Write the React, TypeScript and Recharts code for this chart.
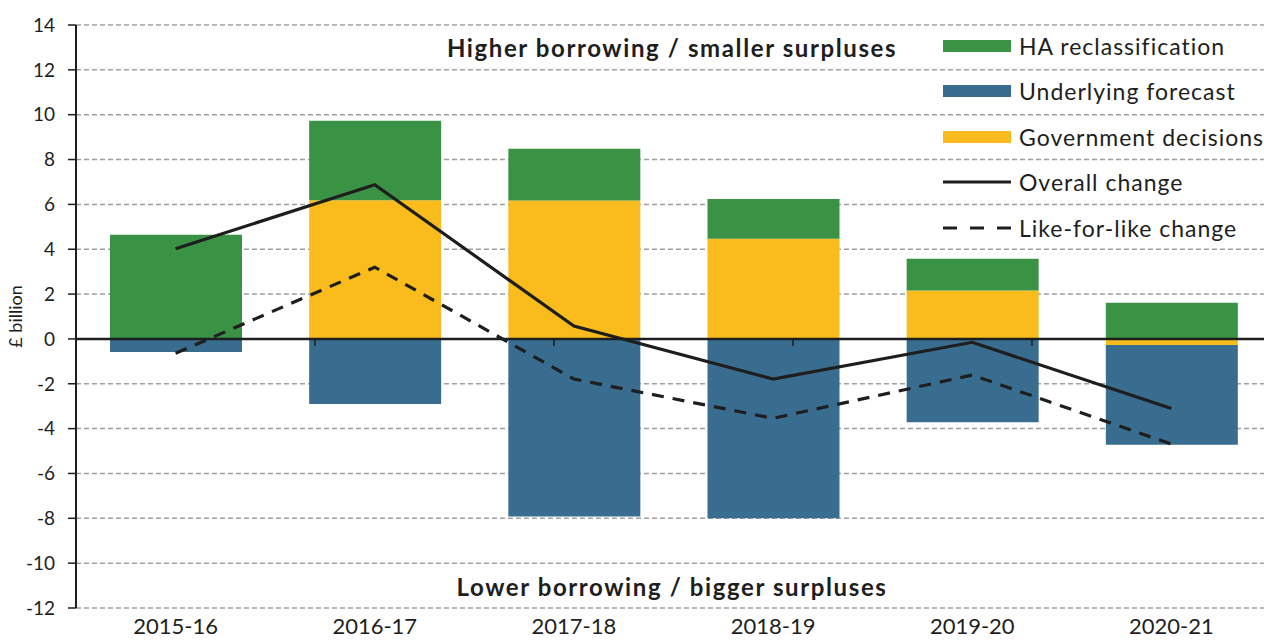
import {
  ComposedChart,
  Bar,
  Line,
  XAxis,
  YAxis,
  CartesianGrid,
  ReferenceLine,
} from "recharts";

const categories = ["2015-16", "2016-17", "2017-18", "2018-19", "2019-20", "2020-21"];
const govDecisions = [0, 6.18, 6.17, 4.47, 2.16, -0.27];
const underlyingForecast = [-0.58, -2.9, -7.92, -8.0, -3.72, -4.45];
const haReclassification = [4.65, 3.55, 2.31, 1.77, 1.41, 1.61];
const overallChange = [4.02, 6.88, 0.57, -1.79, -0.15, -3.1];
const likeForLikeChange = [-0.64, 3.2, -1.79, -3.54, -1.61, -4.69];
const yTicks = [-12, -10, -8, -6, -4, -2, 0, 2, 4, 6, 8, 10, 12, 14];
const bandEdges = [1, 2, 3, 4, 5];

const GREEN = "#3a9345";
const BLUE = "#396d8f";
const YELLOW = "#f9bc1c";
const INK = "#1e1e1e";
const FONT = "Lato, 'DejaVu Sans', sans-serif";

const data = categories.map((c, i) => ({
  year: c,
  gov: govDecisions[i],
  underlying: underlyingForecast[i],
  ha: haReclassification[i],
  overall: overallChange[i],
  like: likeForLikeChange[i],
}));

// legend order differs from stacking order
const legendItems = [
  { name: "HA reclassification", kind: "box", color: GREEN },
  { name: "Underlying forecast", kind: "box", color: BLUE },
  { name: "Government decisions", kind: "box", color: YELLOW },
  { name: "Overall change", kind: "line", color: INK },
  { name: "Like-for-like change", kind: "dash", color: INK },
];

function Swatch({ kind, color }: { kind: string; color: string }) {
  return (
    <svg width={68} height={14} style={{ display: "block" }}>
      {kind === "box" && <rect x={0} y={1} width={68} height={12} fill={color} />}
      {kind === "line" && <line x1={0} x2={68} y1={7} y2={7} stroke={color} strokeWidth={3} />}
      {kind === "dash" && (
        <line x1={0} x2={68} y1={7} y2={7} stroke={color} strokeWidth={3} strokeDasharray="14 13" />
      )}
    </svg>
  );
}

function YearTick(props: any) {
  const { x, y, payload } = props;
  return (
    <text x={x} y={y} dy={18} textAnchor="middle" fill={INK} fontSize={22} fontFamily={FONT}>
      {payload.value}
    </text>
  );
}

function YLabel(props: any) {
  const vb = props.viewBox;
  const cx = vb.x + 22;
  const cy = vb.y + vb.height / 2;
  return (
    <text
      x={cx}
      y={cy}
      transform={`rotate(-90 ${cx} ${cy})`}
      textAnchor="middle"
      fontSize={18}
      fill={INK}
      fontFamily={FONT}
    >
      £ billion
    </text>
  );
}

const noteStyle = {
  position: "absolute" as const,
  left: 272,
  width: 800,
  height: 30,
  lineHeight: "30px",
  textAlign: "center" as const,
  fontSize: 24,
  fontWeight: 700,
  letterSpacing: 1.6,
  color: INK,
};

export default function App() {
  return (
    <div
      style={{
        position: "absolute",
        left: 0,
        top: 0,
        width: 1264,
        height: 644,
        overflow: "hidden",
        background: "#fff",
        fontFamily: FONT,
      }}
    >
      <ComposedChart
        width={1271}
        height={644}
        data={data}
        stackOffset="sign"
        margin={{ top: 25, right: 0, bottom: 0, left: 0 }}
      >
        <CartesianGrid vertical={false} stroke="#a0a0a0" strokeWidth={1.5} strokeDasharray="5 3" />
        <XAxis dataKey="year" height={36} axisLine={false} tickLine={false} tick={<YearTick />} interval={0} />
        <XAxis xAxisId="edges" type="number" domain={[0, 6]} hide />
        <YAxis
          width={76}
          domain={[-12, 14]}
          ticks={yTicks}
          interval={0}
          tickSize={8}
          tickMargin={13}
          axisLine={{ stroke: INK, strokeWidth: 2 }}
          tickLine={{ stroke: INK, strokeWidth: 1.5 }}
          tick={{ fill: INK, fontSize: 19, fontFamily: FONT }}
          label={<YLabel />}
        />
        <Bar dataKey="gov" stackId="s" fill={YELLOW} barSize={132} isAnimationActive={false} />
        <Bar dataKey="underlying" stackId="s" fill={BLUE} barSize={132} isAnimationActive={false} />
        <Bar dataKey="ha" stackId="s" fill={GREEN} barSize={132} isAnimationActive={false} />
        <ReferenceLine y={0} stroke={INK} strokeWidth={2.5} />
        {bandEdges.map((e) => (
          <ReferenceLine
            key={e}
            xAxisId="edges"
            segment={[
              { x: e, y: 0 },
              { x: e, y: -0.32 },
            ]}
            stroke={INK}
            strokeWidth={1.5}
          />
        ))}
        <Line dataKey="overall" stroke={INK} strokeWidth={3.2} dot={false} isAnimationActive={false} />
        <Line
          dataKey="like"
          stroke={INK}
          strokeWidth={3.2}
          strokeDasharray="12 9"
          dot={false}
          isAnimationActive={false}
        />
      </ComposedChart>

      <div style={{ ...noteStyle, top: 33 }}>Higher borrowing / smaller surpluses</div>
      <div style={{ ...noteStyle, top: 572 }}>Lower borrowing / bigger surpluses</div>

      <div style={{ position: "absolute", left: 943, top: 23 }}>
        {legendItems.map((it) => (
          <div key={it.name} style={{ display: "flex", alignItems: "center", height: 45.5 }}>
            <Swatch kind={it.kind} color={it.color} />
            <span
              style={{
                marginLeft: 8,
                fontSize: 23,
                letterSpacing: 1,
                lineHeight: "28px",
                color: INK,
                whiteSpace: "nowrap",
              }}
            >
              {it.name}
            </span>
          </div>
        ))}
      </div>
    </div>
  );
}
